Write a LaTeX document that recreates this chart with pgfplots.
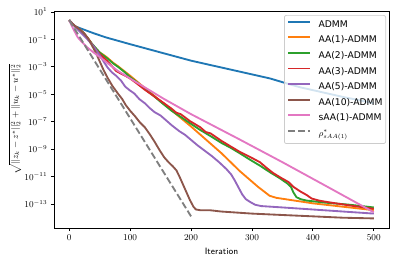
\documentclass[border=0pt]{standalone}
\usepackage{fontspec}
\usepackage{pgfplots}
\pgfplotsset{compat=1.18}
\newfontfamily\dejavu{DejaVu Sans}
\definecolor{tabblue}{HTML}{1F77B4}
\definecolor{taborange}{HTML}{FF7F0E}
\definecolor{tabgreen}{HTML}{2CA02C}
\definecolor{tabred}{HTML}{D62728}
\definecolor{tabpurple}{HTML}{9467BD}
\definecolor{tabbrown}{HTML}{8C564B}
\definecolor{tabpink}{HTML}{E377C2}
\definecolor{tabgray}{HTML}{7F7F7F}
\begin{document}
\begin{tikzpicture}
\useasboundingbox (-54pt,-38pt) rectangle (345pt,228pt);
\begin{axis}[
  scale only axis, width=335pt, height=217pt,
  ymode=log, xmin=-25, xmax=525, ymin=1.78e-15, ymax=11.75,
  xtick={0,100,200,300,400,500},
  ytick={1e1,1e-1,1e-3,1e-5,1e-7,1e-9,1e-11,1e-13},
  minor ytick={}, minor xtick={},
  tick align=outside, tick pos=left,
  major tick length=3.2pt,
  axis line style={line width=0.74pt},
  tick style={black, line width=0.74pt},
  ticklabel style={font=\fontsize{9.2}{11}\selectfont},
  xlabel={\sffamily Iteration},
  ylabel={$\sqrt{||z_k-z^*||_2^2+||u_k-u^*||_2^2}$},
  label style={font=\fontsize{9.2}{11}\selectfont},
  xlabel style={at={(axis description cs:0.5,-0.0922)}, anchor=north, inner sep=0pt},
  ylabel style={at={(axis description cs:-0.1164,0.5)}, anchor=center, inner sep=0pt, rotate=0},
  legend cell align=left,
  legend image code/.code={\draw[#1] plot coordinates {(0pt,3.2pt) (10.85pt,3.2pt) (21.7pt,3.2pt)};},
  legend style={at={(axis description cs:1,1)}, anchor=north east, xshift=-3pt, yshift=-4pt,
    draw=black!20, line width=0.74pt, rounded corners=2pt, fill=white, fill opacity=0.8, text opacity=1,
    font=\dejavu\fontsize{9.2}{11}\selectfont, inner xsep=3pt, inner ysep=5pt,
    row sep=6.6pt, column sep=7.6pt,
    nodes={inner sep=0pt, text height=7pt, text depth=2pt}},
]
% ADMM
\addplot[tabblue, line width=1.85pt, line join=round] coordinates {
(0,2.51) (5,1.41) (10,0.891) (20,0.603) (40,0.282) (60,0.141) (80,7.94e-2) (100,4.47e-2)
(125,2.24e-2) (150,1.12e-2) (175,5.62e-3) (200,2.82e-3) (225,1.58e-3) (250,8.91e-4)
(275,5.01e-4) (300,2.82e-4) (330,1.41e-4) (360,5.62e-5) (380,3.16e-5) (400,2.0e-5)
(450,6.31e-6) (500,2.24e-6)};
\addlegendentry{ADMM}
% AA(1)
\addplot[taborange, line width=1.85pt, line join=round] coordinates {
(0,2.51) (5,1.41) (10,0.891) (18,0.501) (25,0.251) (32,0.1) (38,3.98e-2) (44,2.0e-2)
(50,1.12e-2) (57,7.08e-3) (63,4.47e-3) (72,2.0e-3) (80,1.12e-3) (90,5.01e-4) (100,2.24e-4)
(150,3.16e-6) (200,4.47e-8) (250,5.01e-10) (280,2.51e-11) (310,1.78e-12) (329,3.98e-13)
(340,2.82e-13) (400,1.12e-13) (450,6.31e-14) (500,3.55e-14)};
\addlegendentry{AA(1)-ADMM}
% AA(2)
\addplot[tabgreen, line width=1.85pt, line join=round] coordinates {
(0,2.51) (5,1.41) (10,0.891) (18,0.501) (25,0.251) (32,0.1) (38,4.47e-2) (44,2.24e-2)
(50,1.12e-2) (57,6.31e-3) (63,3.98e-3) (72,1.78e-3) (80,1.0e-3) (90,4.47e-4) (100,1.78e-4)
(112,7.08e-5) (125,2.24e-5) (138,7.94e-6) (154,2.0e-6) (168,6.31e-7) (183,2.24e-7)
(198,7.94e-8) (215,2.51e-8) (232,8.91e-9) (250,2.82e-9) (265,1.26e-9) (280,5.01e-10)
(296,1.78e-10) (313,6.31e-11) (330,2.0e-11) (345,7.94e-12) (358,3.16e-12) (364,1.78e-12)
(368,7.08e-13) (373,3.16e-13) (380,2.24e-13) (390,1.78e-13) (420,1.26e-13) (460,8.91e-14)
(500,5.62e-14)};
\addlegendentry{AA(2)-ADMM}
% AA(3)
\addplot[tabred, line width=1.85pt, line join=round] coordinates {
(0,2.51) (5,1.41) (10,0.891) (18,0.501) (25,0.251) (32,0.1) (38,3.98e-2) (44,1.78e-2)
(50,8.91e-3) (57,4.47e-3) (63,2.51e-3) (70,1.12e-3) (77,5.01e-4) (85,3.16e-4) (92,2.24e-4)
(100,1.41e-4) (112,5.62e-5) (125,2.0e-5) (138,7.94e-6) (154,2.51e-6) (168,8.91e-7)
(176,4.47e-7) (183,3.55e-7) (198,1.12e-7) (215,3.98e-8) (224,1.78e-8) (232,1.41e-8)
(250,3.98e-9) (265,1.58e-9) (280,6.31e-10) (296,2.82e-10) (313,1.12e-10) (325,3.98e-11)
(335,1.78e-11) (350,7.08e-12) (360,3.98e-12) (368,1.78e-12) (380,7.94e-13) (390,4.47e-13)
(398,2.51e-13) (410,1.78e-13) (423,1.41e-13) (460,7.94e-14) (500,4.47e-14)};
\addlegendentry{AA(3)-ADMM}
% AA(5)
\addplot[tabpurple, line width=1.85pt, line join=round] coordinates {
(0,2.51) (5,1.41) (10,0.794) (20,0.282) (30,0.1) (40,3.16e-2) (50,7.08e-3) (57,2.24e-3)
(63,8.91e-4) (70,3.98e-4) (77,2.24e-4) (85,1.0e-4) (92,3.55e-5) (99,2.0e-5) (107,1.12e-5)
(115,4.47e-6) (124,2.24e-6) (132,1.0e-6) (140,5.01e-7) (150,2.82e-7) (159,1.26e-7)
(168,5.62e-8) (181,2.0e-8) (190,1.12e-8) (198,5.62e-9) (210,2.0e-9) (222,7.94e-10)
(234,3.16e-10) (246,1.12e-10) (258,3.55e-11) (266,1.41e-11) (272,5.01e-12) (278,1.58e-12)
(284,5.01e-13) (290,2.24e-13) (297,1.41e-13) (305,8.91e-14) (315,7.08e-14) (350,5.62e-14)
(400,3.98e-14) (450,2.82e-14) (500,2.0e-14)};
\addlegendentry{AA(5)-ADMM}
% AA(10)
\addplot[tabbrown, line width=1.85pt, line join=round] coordinates {
(0,2.51) (5,1.41) (10,0.891) (18,0.501) (25,0.251) (32,0.1) (38,3.16e-2) (44,1.0e-2)
(50,2.51e-3) (56,6.31e-4) (63,1.58e-4) (71,3.98e-5) (80,1.12e-5) (87,4.47e-6) (93,1.58e-6)
(100,6.31e-7) (108,2.51e-7) (116,8.91e-8) (124,3.98e-8) (132,1.26e-8) (140,3.55e-9)
(148,8.91e-10) (156,2.51e-10) (163,1.12e-10) (170,5.62e-11) (176,2.82e-11) (181,1.0e-11)
(186,3.16e-12) (192,7.94e-13) (198,2.0e-13) (204,6.31e-14) (208,3.98e-14) (215,3.55e-14)
(230,3.55e-14) (250,2.82e-14) (300,2.0e-14) (350,1.58e-14) (400,1.26e-14) (450,1.0e-14)
(500,8.91e-15)};
\addlegendentry{AA(10)-ADMM}
% sAA(1)
\addplot[tabpink, line width=1.85pt, line join=round] coordinates {
(0,2.51) (4,1.0) (8,0.447) (14,0.141) (20,7.08e-2) (30,2.51e-2) (40,1.12e-2) (52,4.47e-3)
(65,1.58e-3) (80,5.01e-4) (100,1.41e-4) (154,5.01e-6) (200,3.55e-7) (280,5.01e-9)
(350,1.12e-10) (420,2.24e-12) (500,2.51e-14)};
\addlegendentry{sAA(1)-ADMM}
% rate
\addplot[tabgray, line width=1.85pt, dash pattern=on 6.8pt off 2.95pt] coordinates {(0,2.51) (200,1.26e-14)};
\addlegendentry{$\rho^*_{sAA(1)}$}
\end{axis}
\end{tikzpicture}
\end{document}
